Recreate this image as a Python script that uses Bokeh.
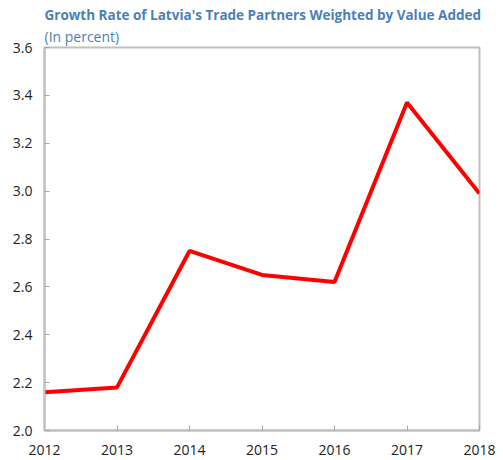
from bokeh.plotting import figure
from bokeh.models import Title, Range1d, FixedTicker, CustomJSTickFormatter
from bokeh.embed import file_html
from bokeh.resources import INLINE

years = [2012, 2013, 2014, 2015, 2016, 2017, 2018]
growth = [2.16, 2.18, 2.75, 2.65, 2.62, 3.37, 2.99]
y_ticks = [2.0, 2.2, 2.4, 2.6, 2.8, 3.0, 3.2, 3.4, 3.6]

title_text = "Growth Rate of Latvia's Trade Partners Weighted by Value Added"
subtitle_text = "(In percent)"

p = figure(width=495, height=462, output_backend="svg", toolbar_location=None,
           title=None, x_range=Range1d(2012, 2018), y_range=Range1d(2.0, 3.6),
           min_border_left=44, min_border_right=16, min_border_bottom=32, min_border_top=47)

p.line(years, growth, line_color="#ff0000", line_width=4)

font = "Open Sans"
blue = "#4a80b8"
sub = Title(text=subtitle_text, text_font=font, text_font_size="14px",
            text_font_style="normal", text_color=blue, align="left", offset=0, standoff=3)
main = Title(text=title_text, text_font=font, text_font_size="13.5px",
             text_font_style="bold", text_color=blue, align="left", offset=0, standoff=0)
p.add_layout(sub, "above")
p.add_layout(main, "above")

p.xgrid.visible = False
p.ygrid.visible = False
p.outline_line_color = "#bfbfbf"
p.outline_line_width = 2

for ax in (p.xaxis[0], p.yaxis[0]):
    ax.axis_line_color = "#bfbfbf"
    ax.axis_line_width = 2
    ax.major_tick_line_color = "#a6a6a6"
    ax.major_tick_in = 5
    ax.major_tick_out = 0
    ax.minor_tick_line_color = None
    ax.major_label_text_font = font
    ax.major_label_text_font_size = "14px"
    ax.major_label_text_color = "#222222"

p.xaxis[0].ticker = FixedTicker(ticks=years)
p.yaxis[0].ticker = FixedTicker(ticks=y_ticks)
p.yaxis[0].formatter = CustomJSTickFormatter(code="return tick.toFixed(1);")
p.xaxis[0].major_label_standoff = 14
p.yaxis[0].major_label_standoff = 12

open("out.html", "w").write(file_html(p, INLINE))
